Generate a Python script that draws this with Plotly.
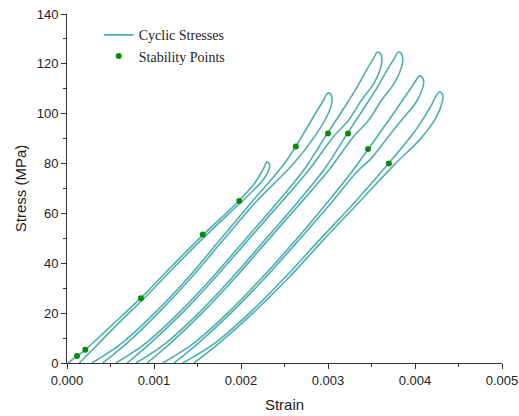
import plotly.graph_objects as go

# ---- Cyclic stress loops (strain, stress): loading branch then unloading branch
loop1_strain = [0.00001, 0.000115, 0.000207, 0.000517, 0.000850, 0.001206, 0.001561, 0.001975, 0.002158, 0.002262, 0.002296,
                0.002325, 0.002325, 0.002255, 0.002060, 0.001600, 0.001245, 0.000890, 0.000570, 0.000290, 0.000140]
loop1_stress = [0, 2.8, 5.2, 15.2, 26.1, 38.9, 51.3, 65.0, 72.2, 78.2, 80.6,
                80.0, 78.0, 73.5, 66.5, 51.3, 38.9, 26.1, 15.2, 5.2, 0]

loop2_strain = [0.000287, 0.000631, 0.001010, 0.001389, 0.001757, 0.002124, 0.002503, 0.002710, 0.002859, 0.002951, 0.002997,
                0.003035, 0.003045, 0.002995, 0.002859, 0.002610, 0.002170, 0.001795, 0.001425, 0.001050, 0.000690, 0.000410]
loop2_stress = [0, 8.0, 20.1, 34.1, 49.3, 64.6, 80.2, 91.5, 100.3, 105.5, 108.3,
                107.6, 104.7, 99.5, 91.5, 80.2, 64.6, 49.3, 34.1, 20.1, 8.0, 0]

loop3_strain = [0.000563, 0.000907, 0.001286, 0.001665, 0.002044, 0.002423, 0.002721, 0.002997, 0.003192, 0.003341, 0.003456, 0.003525, 0.003565,
                0.003600, 0.003618, 0.003610, 0.003536, 0.003387, 0.003238, 0.003060, 0.002780, 0.002465, 0.002080, 0.001700, 0.001325, 0.000960, 0.000690]
loop3_stress = [0, 8.0, 20.1, 34.1, 49.3, 64.6, 77.4, 92.3, 102.7, 111.1, 118.3, 122.3, 124.7,
                124.3, 122.3, 119.1, 112.7, 105.5, 97.5, 90.7, 77.4, 64.6, 49.3, 34.1, 20.1, 8.0, 0]

loop4_strain = [0.000793, 0.001137, 0.001516, 0.001895, 0.002274, 0.002653, 0.002951, 0.003227, 0.003422, 0.003575, 0.003692, 0.003764, 0.003805,
                0.003840, 0.003858, 0.003848, 0.003770, 0.003617, 0.003468, 0.003290, 0.003010, 0.002695, 0.002310, 0.001930, 0.001555, 0.001190, 0.000920]
loop4_stress = [0, 8.0, 20.1, 34.1, 49.3, 64.6, 77.4, 92.3, 102.7, 111.1, 118.3, 122.3, 124.7,
                124.3, 122.3, 119.1, 112.7, 105.5, 97.5, 90.7, 77.4, 64.6, 49.3, 34.1, 20.1, 8.0, 0]

loop5_strain = [0.001102, 0.001458, 0.001848, 0.002239, 0.002629, 0.002997, 0.003272, 0.003456, 0.003651, 0.003812, 0.003938, 0.004007, 0.004045,
                0.004082, 0.004100, 0.004080, 0.004007, 0.003846, 0.003662, 0.003500, 0.003330, 0.003045, 0.002665, 0.002275, 0.001885, 0.001510, 0.001230]
loop5_stress = [0, 8.0, 20.1, 34.1, 49.3, 64.6, 76.6, 85.4, 95.1, 103.1, 109.5, 113.1, 115.1,
                114.7, 112.7, 109.5, 104.3, 97.5, 89.4, 82.2, 76.6, 64.6, 49.3, 34.1, 20.1, 8.0, 0]

loop6_strain = [0.00133, 0.00170, 0.00210, 0.00250, 0.00290, 0.00331, 0.00370, 0.00400, 0.00417, 0.00428,
                0.00432, 0.00431, 0.00424, 0.00405, 0.00378, 0.003360, 0.002945, 0.002545, 0.002140, 0.00175, 0.00146]
loop6_stress = [0, 8.0, 20.1, 34.1, 49.3, 64.6, 80.2, 93.1, 102.3, 108.7,
                107.5, 104.3, 98.3, 89.4, 80.2, 64.6, 49.3, 34.1, 20.1, 8.0, 0]

# ---- Stability points
stab_strain = [0.000115, 0.00021, 0.00085, 0.00156, 0.00198, 0.00263, 0.00300, 0.00323, 0.00346, 0.00370]
stab_stress = [2.8, 5.3, 26.0, 51.5, 65.0, 86.8, 92.1, 92.1, 85.8, 80.0]

# ---- Axis ticks
x_ticks = [0.000, 0.001, 0.002, 0.003, 0.004, 0.005]
x_tick_labels = ["0.000", "0.001", "0.002", "0.003", "0.004", "0.005"]
y_ticks = [0, 20, 40, 60, 80, 100, 120, 140]

loops = [
    (loop1_strain, loop1_stress),
    (loop2_strain, loop2_stress),
    (loop3_strain, loop3_stress),
    (loop4_strain, loop4_stress),
    (loop5_strain, loop5_stress),
    (loop6_strain, loop6_stress),
]

fig = go.Figure()
LINE_COLOR = "rgba(0,140,140,0.7)"
for i, (xs, ys) in enumerate(loops):
    fig.add_trace(go.Scatter(
        x=xs, y=ys, mode="lines",
        line=dict(color=LINE_COLOR, width=1.6, shape="spline", smoothing=1.0),
        name="Cyclic Stresses", legendgroup="cyc", showlegend=(i == 0),
    ))

fig.add_trace(go.Scatter(
    x=stab_strain, y=stab_stress, mode="markers",
    marker=dict(color="#0a8a0a", size=6),
    name="Stability Points",
))

axis_font = dict(family="Liberation Sans, Arial", size=13, color="#222")
fig.update_layout(
    width=519, height=416,
    margin=dict(l=67, r=17, t=14, b=53),
    paper_bgcolor="white", plot_bgcolor="white",
    font=axis_font,
    legend=dict(x=0.073, y=0.985, xanchor="left", yanchor="top",
                font=dict(family="Liberation Serif, Times New Roman", size=14, color="#222"),
                bgcolor="rgba(0,0,0,0)", tracegroupgap=0, itemwidth=30),
    xaxis=dict(range=[0, 0.005], tickvals=x_ticks, ticktext=x_tick_labels, automargin=False,
               ticklabeloverflow="allow",
               ticks="outside", ticklen=5, tickwidth=1, tickcolor="#333",
               showline=True, linecolor="#333", linewidth=1, showgrid=False, zeroline=False,
               minor=dict(dtick=0.0005, ticks="outside", ticklen=3, tickcolor="#333", showgrid=False),
               title=dict(text="Strain", font=dict(family="Liberation Sans, Arial", size=15, color="#222"), standoff=12)),
    yaxis=dict(range=[0, 140], tickvals=y_ticks, automargin=False,
               ticklabeloverflow="allow",
               ticks="outside", ticklen=5, tickwidth=1, tickcolor="#333",
               showline=True, linecolor="#333", linewidth=1, showgrid=False, zeroline=False,
               minor=dict(dtick=10, ticks="outside", ticklen=3, tickcolor="#333", showgrid=False),
               title=dict(text="Stress (MPa)", font=dict(family="Liberation Sans, Arial", size=15, color="#222"), standoff=6)),
)

fig.write_html("out.html", config={"displayModeBar": False},
               post_script="document.body.style.margin='0';document.body.style.overflow='hidden';")
